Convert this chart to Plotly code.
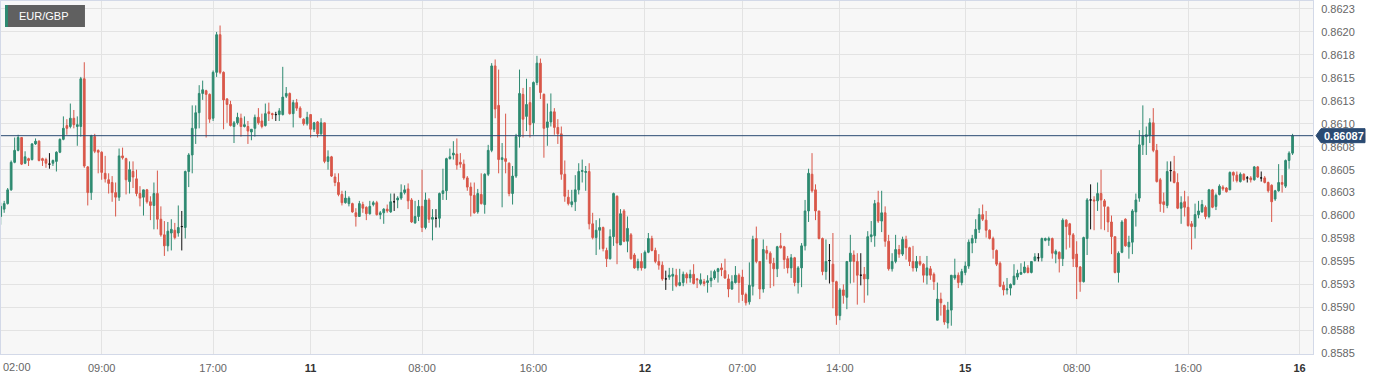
import plotly.graph_objects as go

symbol = "EUR/GBP"

opens = [
    0.85999, 0.86007, 0.86013, 0.86028, 0.86058, 0.86071, 0.86085, 0.86057, 0.86062, 0.86061,
    0.86078, 0.86081, 0.86062, 0.86061, 0.86056, 0.86057, 0.86059, 0.86069, 0.86083, 0.86098,
    0.86097, 0.86106, 0.86097, 0.86097, 0.86149, 0.86053, 0.86025, 0.86086, 0.86071, 0.86069,
    0.86046, 0.86039, 0.86036, 0.86025, 0.86020, 0.86065, 0.86062, 0.86037, 0.86048, 0.86040,
    0.86024, 0.86020, 0.86028, 0.86015, 0.86011, 0.86024, 0.85996, 0.85979, 0.85967, 0.85981,
    0.85984, 0.85981, 0.85988, 0.85987, 0.86048, 0.86066, 0.86095, 0.86112, 0.86133, 0.86136,
    0.86132, 0.86106, 0.86156, 0.86197, 0.86156, 0.86127, 0.86121, 0.86097, 0.86101, 0.86106,
    0.86097, 0.86097, 0.86091, 0.86095, 0.86107, 0.86103, 0.86098, 0.86113, 0.86111, 0.86110,
    0.86110, 0.86110, 0.86130, 0.86133, 0.86111, 0.86123, 0.86117, 0.86105, 0.86100, 0.86110,
    0.86094, 0.86102, 0.86089, 0.86101, 0.86059, 0.86064, 0.86042, 0.86036, 0.86023, 0.86014,
    0.86013, 0.86013, 0.86003, 0.85999, 0.86012, 0.86009, 0.86002, 0.86012, 0.86014, 0.86001,
    0.86003, 0.86007, 0.86004, 0.86015, 0.86017, 0.86019, 0.86025, 0.86029, 0.86017, 0.85992,
    0.85999, 0.86010, 0.85987, 0.86017, 0.85996, 0.85997, 0.85997, 0.86024, 0.86027, 0.86062,
    0.86066, 0.86067, 0.86058, 0.86056, 0.86041, 0.86031, 0.86022, 0.86004, 0.86023, 0.86012,
    0.86045, 0.86071, 0.86163, 0.86120, 0.86061, 0.86062, 0.86057, 0.86024, 0.86043, 0.86086,
    0.86132, 0.86108, 0.86123, 0.86101, 0.86145, 0.86166, 0.86132, 0.86096, 0.86102, 0.86113,
    0.86096, 0.86089, 0.86045, 0.86020, 0.86012, 0.86015, 0.86028, 0.86048, 0.86047, 0.86048,
    0.85991, 0.85976, 0.85984, 0.85987, 0.85962, 0.85953, 0.85977, 0.86021, 0.85968, 0.86005,
    0.85972, 0.85979, 0.85957, 0.85943, 0.85950, 0.85943, 0.85960, 0.85975, 0.85962, 0.85950,
    0.85946, 0.85931, 0.85933, 0.85934, 0.85935, 0.85924, 0.85927, 0.85936, 0.85932, 0.85936,
    0.85931, 0.85926, 0.85928, 0.85927, 0.85929, 0.85932, 0.85939, 0.85943, 0.85940, 0.85931,
    0.85920, 0.85927, 0.85935, 0.85933, 0.85914, 0.85906, 0.85923, 0.85975, 0.85950, 0.85920,
    0.85962, 0.85959, 0.85948, 0.85942, 0.85967, 0.85966, 0.85953, 0.85943, 0.85954, 0.85927,
    0.85943, 0.85967, 0.86005, 0.86045, 0.86028, 0.86005, 0.85975, 0.85939, 0.85951, 0.85947,
    0.85928, 0.85891, 0.85919, 0.85911, 0.85950, 0.85957, 0.85950, 0.85935, 0.85936, 0.85931,
    0.85977, 0.85978, 0.86014, 0.85994, 0.86003, 0.85972, 0.85942, 0.85950, 0.85963, 0.85958,
    0.85974, 0.85965, 0.85950, 0.85943, 0.85950, 0.85947, 0.85935, 0.85942, 0.85936, 0.85886,
    0.85909, 0.85902, 0.85883, 0.85897, 0.85932, 0.85935, 0.85927, 0.85938, 0.85945, 0.85970,
    0.85975, 0.85985, 0.86001, 0.85995, 0.85984, 0.85975, 0.85962, 0.85948, 0.85924, 0.85919,
    0.85921, 0.85925, 0.85933, 0.85936, 0.85938, 0.85943, 0.85938, 0.85951, 0.85954, 0.85954,
    0.85973, 0.85973, 0.85975, 0.85958, 0.85960, 0.85953, 0.85995, 0.85991, 0.85979, 0.85958,
    0.85944, 0.85928, 0.85975, 0.86017, 0.86017, 0.86016, 0.86024, 0.86016, 0.86009, 0.85993,
    0.85977, 0.85938, 0.85960, 0.85996, 0.85966, 0.85971, 0.86004, 0.86019, 0.86077, 0.86086,
    0.86087, 0.86101, 0.86071, 0.86039, 0.86015, 0.86011, 0.86049, 0.86048, 0.86036, 0.86008,
    0.86015, 0.86009, 0.85991, 0.85988, 0.86001, 0.86004, 0.86009, 0.85999, 0.86028, 0.86010,
    0.86023, 0.86031, 0.86030, 0.86028, 0.86047, 0.86044, 0.86037, 0.86045, 0.86041, 0.86041,
    0.86039, 0.86053, 0.86041, 0.86041, 0.86036, 0.86033, 0.86018, 0.86027, 0.86036, 0.86032,
    0.86060, 0.86068,
]

highs = [
    0.86014, 0.86016, 0.86030, 0.86060, 0.86085, 0.86088, 0.86085, 0.86070, 0.86063, 0.86079,
    0.86084, 0.86082, 0.86063, 0.86063, 0.86068, 0.86061, 0.86070, 0.86084, 0.86108, 0.86105,
    0.86122, 0.86115, 0.86108, 0.86151, 0.86167, 0.86054, 0.86088, 0.86089, 0.86072, 0.86070,
    0.86065, 0.86046, 0.86043, 0.86036, 0.86073, 0.86074, 0.86063, 0.86059, 0.86059, 0.86050,
    0.86032, 0.86028, 0.86029, 0.86021, 0.86036, 0.86049, 0.86010, 0.85994, 0.85993, 0.85996,
    0.85992, 0.86011, 0.86005, 0.86049, 0.86068, 0.86120, 0.86120, 0.86142, 0.86147, 0.86137,
    0.86133, 0.86158, 0.86200, 0.86207, 0.86157, 0.86128, 0.86125, 0.86103, 0.86112, 0.86111,
    0.86108, 0.86103, 0.86094, 0.86110, 0.86117, 0.86111, 0.86122, 0.86123, 0.86112, 0.86113,
    0.86117, 0.86162, 0.86140, 0.86134, 0.86126, 0.86127, 0.86119, 0.86106, 0.86113, 0.86110,
    0.86102, 0.86103, 0.86106, 0.86101, 0.86071, 0.86065, 0.86046, 0.86046, 0.86027, 0.86027,
    0.86021, 0.86014, 0.86008, 0.86016, 0.86015, 0.86010, 0.86016, 0.86016, 0.86016, 0.86005,
    0.86008, 0.86012, 0.86024, 0.86024, 0.86021, 0.86034, 0.86033, 0.86035, 0.86019, 0.86016,
    0.86017, 0.86050, 0.86025, 0.86019, 0.86007, 0.86007, 0.86025, 0.86051, 0.86063, 0.86073,
    0.86081, 0.86084, 0.86068, 0.86061, 0.86043, 0.86036, 0.86036, 0.86029, 0.86046, 0.86046,
    0.86077, 0.86166, 0.86170, 0.86159, 0.86079, 0.86111, 0.86058, 0.86054, 0.86089, 0.86159,
    0.86139, 0.86149, 0.86140, 0.86146, 0.86174, 0.86171, 0.86133, 0.86122, 0.86133, 0.86117,
    0.86105, 0.86097, 0.86060, 0.86028, 0.86028, 0.86044, 0.86057, 0.86061, 0.86054, 0.86057,
    0.86003, 0.85995, 0.85997, 0.85988, 0.85965, 0.85985, 0.86025, 0.86022, 0.86007, 0.86007,
    0.85999, 0.85981, 0.85959, 0.85953, 0.85959, 0.85962, 0.85981, 0.85978, 0.85965, 0.85958,
    0.85950, 0.85940, 0.85943, 0.85943, 0.85942, 0.85942, 0.85939, 0.85938, 0.85941, 0.85947,
    0.85932, 0.85937, 0.85931, 0.85935, 0.85940, 0.85941, 0.85943, 0.85948, 0.85953, 0.85936,
    0.85935, 0.85945, 0.85937, 0.85941, 0.85916, 0.85949, 0.85978, 0.85988, 0.85950, 0.85974,
    0.85967, 0.85961, 0.85954, 0.85967, 0.85981, 0.85967, 0.85956, 0.85958, 0.85955, 0.85945,
    0.85970, 0.86017, 0.86051, 0.86068, 0.86034, 0.86005, 0.85976, 0.85974, 0.85969, 0.85981,
    0.85929, 0.85921, 0.85925, 0.85950, 0.85979, 0.85962, 0.85959, 0.85959, 0.85944, 0.85983,
    0.85994, 0.86017, 0.86027, 0.86027, 0.86010, 0.85979, 0.85959, 0.85979, 0.85968, 0.85977,
    0.85978, 0.85966, 0.85967, 0.85956, 0.85956, 0.85948, 0.85956, 0.85945, 0.85938, 0.85927,
    0.85916, 0.85903, 0.85906, 0.85935, 0.85953, 0.85938, 0.85942, 0.85950, 0.85974, 0.85979,
    0.85996, 0.86008, 0.86012, 0.86005, 0.85985, 0.85977, 0.85963, 0.85950, 0.85928, 0.85932,
    0.85926, 0.85947, 0.85941, 0.85948, 0.85950, 0.85946, 0.85950, 0.85959, 0.85959, 0.85976,
    0.85976, 0.85977, 0.85976, 0.85963, 0.85961, 0.85997, 0.85996, 0.85992, 0.85981, 0.85972,
    0.85945, 0.85977, 0.86019, 0.86034, 0.86021, 0.86036, 0.86050, 0.86018, 0.86010, 0.86000,
    0.85977, 0.85961, 0.85995, 0.85997, 0.85978, 0.86007, 0.86024, 0.86093, 0.86120, 0.86097,
    0.86106, 0.86117, 0.86078, 0.86041, 0.86025, 0.86059, 0.86059, 0.86065, 0.86046, 0.86021,
    0.86027, 0.86021, 0.85994, 0.86013, 0.86016, 0.86017, 0.86011, 0.86029, 0.86029, 0.86024,
    0.86034, 0.86033, 0.86031, 0.86048, 0.86048, 0.86048, 0.86047, 0.86046, 0.86043, 0.86043,
    0.86054, 0.86054, 0.86048, 0.86043, 0.86037, 0.86034, 0.86028, 0.86056, 0.86044, 0.86061,
    0.86070, 0.86089,
]

lows = [
    0.85990, 0.86003, 0.86012, 0.86027, 0.86057, 0.86070, 0.86055, 0.86056, 0.86054, 0.86060,
    0.86077, 0.86059, 0.86054, 0.86052, 0.86051, 0.86054, 0.86048, 0.86068, 0.86082, 0.86088,
    0.86095, 0.86095, 0.86076, 0.86086, 0.86052, 0.86011, 0.86017, 0.86068, 0.86046, 0.86039,
    0.86036, 0.86024, 0.86015, 0.85999, 0.86016, 0.86061, 0.86023, 0.86024, 0.86030, 0.86021,
    0.86010, 0.86000, 0.86013, 0.85995, 0.85985, 0.85985, 0.85977, 0.85956, 0.85961, 0.85962,
    0.85974, 0.85977, 0.85962, 0.85975, 0.86031, 0.86046, 0.86078, 0.86095, 0.86126, 0.86085,
    0.86101, 0.86103, 0.86151, 0.86154, 0.86094, 0.86101, 0.86097, 0.86079, 0.86099, 0.86086,
    0.86096, 0.86078, 0.86082, 0.86086, 0.86099, 0.86095, 0.86097, 0.86103, 0.86105, 0.86103,
    0.86103, 0.86109, 0.86128, 0.86110, 0.86096, 0.86114, 0.86106, 0.86098, 0.86098, 0.86085,
    0.86091, 0.86085, 0.86088, 0.86057, 0.86050, 0.86042, 0.86032, 0.86021, 0.86011, 0.86013,
    0.86010, 0.86003, 0.85988, 0.85999, 0.86003, 0.85995, 0.86001, 0.86010, 0.86000, 0.85996,
    0.85991, 0.86003, 0.86003, 0.86005, 0.86008, 0.86017, 0.86023, 0.86007, 0.85992, 0.85991,
    0.85994, 0.85982, 0.85985, 0.85992, 0.85973, 0.85987, 0.85987, 0.86017, 0.86017, 0.86061,
    0.86061, 0.86050, 0.86052, 0.86039, 0.86027, 0.85999, 0.86002, 0.86002, 0.86012, 0.86002,
    0.86043, 0.86069, 0.86106, 0.86046, 0.86009, 0.86046, 0.86021, 0.86012, 0.86041, 0.86074,
    0.86085, 0.86092, 0.86085, 0.86088, 0.86142, 0.86127, 0.86063, 0.86076, 0.86097, 0.86088,
    0.86078, 0.86039, 0.86015, 0.86011, 0.86009, 0.86005, 0.86023, 0.86036, 0.86027, 0.85985,
    0.85974, 0.85957, 0.85963, 0.85961, 0.85944, 0.85952, 0.85967, 0.85947, 0.85968, 0.85971,
    0.85960, 0.85952, 0.85942, 0.85940, 0.85940, 0.85942, 0.85959, 0.85961, 0.85948, 0.85941,
    0.85929, 0.85919, 0.85930, 0.85918, 0.85922, 0.85923, 0.85923, 0.85926, 0.85927, 0.85925,
    0.85921, 0.85924, 0.85923, 0.85916, 0.85922, 0.85930, 0.85927, 0.85934, 0.85931, 0.85911,
    0.85919, 0.85926, 0.85905, 0.85907, 0.85902, 0.85903, 0.85913, 0.85948, 0.85909, 0.85916,
    0.85952, 0.85921, 0.85923, 0.85933, 0.85964, 0.85942, 0.85937, 0.85932, 0.85923, 0.85915,
    0.85922, 0.85962, 0.85993, 0.86025, 0.85995, 0.85974, 0.85935, 0.85930, 0.85926, 0.85899,
    0.85881, 0.85886, 0.85904, 0.85898, 0.85926, 0.85927, 0.85903, 0.85924, 0.85905, 0.85913,
    0.85971, 0.85966, 0.85992, 0.85982, 0.85966, 0.85940, 0.85939, 0.85948, 0.85954, 0.85956,
    0.85952, 0.85945, 0.85939, 0.85939, 0.85945, 0.85927, 0.85925, 0.85930, 0.85919, 0.85886,
    0.85891, 0.85881, 0.85877, 0.85880, 0.85930, 0.85921, 0.85924, 0.85935, 0.85942, 0.85959,
    0.85970, 0.85981, 0.85994, 0.85976, 0.85974, 0.85953, 0.85945, 0.85922, 0.85913, 0.85914,
    0.85913, 0.85924, 0.85930, 0.85936, 0.85937, 0.85937, 0.85937, 0.85950, 0.85950, 0.85950,
    0.85972, 0.85967, 0.85953, 0.85948, 0.85938, 0.85945, 0.85963, 0.85965, 0.85944, 0.85909,
    0.85917, 0.85927, 0.85957, 0.85985, 0.85984, 0.86005, 0.85985, 0.85984, 0.85982, 0.85958,
    0.85937, 0.85927, 0.85959, 0.85966, 0.85953, 0.85958, 0.85988, 0.86015, 0.86066, 0.86066,
    0.86079, 0.86069, 0.86036, 0.86004, 0.86003, 0.86008, 0.86037, 0.86035, 0.86007, 0.85991,
    0.85999, 0.85988, 0.85963, 0.85975, 0.85997, 0.86003, 0.85996, 0.85997, 0.86008, 0.86006,
    0.86022, 0.86027, 0.86025, 0.86028, 0.86037, 0.86036, 0.86036, 0.86038, 0.86036, 0.86036,
    0.86038, 0.86041, 0.86037, 0.86035, 0.86025, 0.85993, 0.86016, 0.86026, 0.86025, 0.86030,
    0.86051, 0.86066,
]

closes = [
    0.86010, 0.86013, 0.86028, 0.86058, 0.86071, 0.86085, 0.86056, 0.86064, 0.86060, 0.86078,
    0.86081, 0.86060, 0.86060, 0.86057, 0.86056, 0.86060, 0.86069, 0.86083, 0.86095, 0.86095,
    0.86106, 0.86099, 0.86099, 0.86149, 0.86054, 0.86025, 0.86087, 0.86070, 0.86069, 0.86047,
    0.86040, 0.86035, 0.86025, 0.86020, 0.86065, 0.86063, 0.86039, 0.86050, 0.86042, 0.86024,
    0.86019, 0.86028, 0.86015, 0.86011, 0.86024, 0.85996, 0.85979, 0.85967, 0.85983, 0.85985,
    0.85976, 0.85987, 0.85988, 0.86048, 0.86066, 0.86095, 0.86112, 0.86133, 0.86137, 0.86132,
    0.86105, 0.86156, 0.86197, 0.86156, 0.86126, 0.86121, 0.86098, 0.86101, 0.86107, 0.86097,
    0.86099, 0.86092, 0.86094, 0.86107, 0.86101, 0.86097, 0.86111, 0.86111, 0.86110, 0.86110,
    0.86114, 0.86129, 0.86133, 0.86111, 0.86123, 0.86117, 0.86107, 0.86100, 0.86107, 0.86094,
    0.86101, 0.86089, 0.86101, 0.86059, 0.86064, 0.86043, 0.86036, 0.86023, 0.86014, 0.86019,
    0.86019, 0.86004, 0.85999, 0.86013, 0.86008, 0.86002, 0.86010, 0.86014, 0.86001, 0.86003,
    0.86007, 0.86005, 0.86015, 0.86015, 0.86019, 0.86025, 0.86028, 0.86016, 0.85993, 0.85999,
    0.86010, 0.85987, 0.86017, 0.85996, 0.85998, 0.85997, 0.86024, 0.86027, 0.86062, 0.86064,
    0.86068, 0.86055, 0.86056, 0.86041, 0.86031, 0.86022, 0.86003, 0.86024, 0.86013, 0.86045,
    0.86071, 0.86163, 0.86116, 0.86061, 0.86063, 0.86059, 0.86024, 0.86043, 0.86086, 0.86133,
    0.86105, 0.86121, 0.86099, 0.86145, 0.86166, 0.86134, 0.86095, 0.86102, 0.86113, 0.86096,
    0.86089, 0.86045, 0.86021, 0.86013, 0.86015, 0.86028, 0.86048, 0.86049, 0.86048, 0.85991,
    0.85976, 0.85984, 0.85987, 0.85964, 0.85953, 0.85977, 0.86024, 0.85970, 0.86002, 0.85972,
    0.85986, 0.85953, 0.85943, 0.85950, 0.85943, 0.85960, 0.85975, 0.85962, 0.85950, 0.85946,
    0.85931, 0.85931, 0.85935, 0.85936, 0.85924, 0.85927, 0.85936, 0.85932, 0.85936, 0.85926,
    0.85930, 0.85930, 0.85926, 0.85929, 0.85932, 0.85939, 0.85942, 0.85941, 0.85932, 0.85920,
    0.85928, 0.85935, 0.85927, 0.85914, 0.85905, 0.85924, 0.85974, 0.85950, 0.85920, 0.85963,
    0.85959, 0.85948, 0.85942, 0.85966, 0.85965, 0.85952, 0.85943, 0.85954, 0.85927, 0.85943,
    0.85967, 0.86005, 0.86046, 0.86027, 0.86005, 0.85975, 0.85939, 0.85950, 0.85951, 0.85928,
    0.85891, 0.85919, 0.85913, 0.85950, 0.85959, 0.85950, 0.85935, 0.85935, 0.85931, 0.85977,
    0.85979, 0.86013, 0.85994, 0.86003, 0.85972, 0.85942, 0.85950, 0.85963, 0.85958, 0.85974,
    0.85965, 0.85950, 0.85943, 0.85950, 0.85947, 0.85935, 0.85943, 0.85935, 0.85928, 0.85909,
    0.85905, 0.85884, 0.85897, 0.85935, 0.85935, 0.85927, 0.85939, 0.85945, 0.85971, 0.85975,
    0.85985, 0.86001, 0.85996, 0.85984, 0.85975, 0.85963, 0.85947, 0.85923, 0.85919, 0.85920,
    0.85925, 0.85934, 0.85937, 0.85938, 0.85944, 0.85938, 0.85950, 0.85955, 0.85954, 0.85975,
    0.85975, 0.85975, 0.85959, 0.85961, 0.85953, 0.85995, 0.85988, 0.85979, 0.85953, 0.85944,
    0.85928, 0.85976, 0.86017, 0.86017, 0.86016, 0.86024, 0.86017, 0.86010, 0.85993, 0.85977,
    0.85938, 0.85959, 0.85993, 0.85967, 0.85971, 0.86005, 0.86017, 0.86077, 0.86087, 0.86088,
    0.86101, 0.86071, 0.86037, 0.86013, 0.86012, 0.86048, 0.86049, 0.86036, 0.86008, 0.86014,
    0.86009, 0.85989, 0.85988, 0.86001, 0.86005, 0.86012, 0.85999, 0.86028, 0.86009, 0.86022,
    0.86032, 0.86029, 0.86026, 0.86047, 0.86044, 0.86038, 0.86045, 0.86039, 0.86041, 0.86039,
    0.86053, 0.86042, 0.86041, 0.86036, 0.86027, 0.86015, 0.86027, 0.86036, 0.86034, 0.86060,
    0.86068, 0.86087,
]

# x-axis: candle slot index of each labelled time (15-minute candles, weekend removed)
x_tick_pos = [1, 29, 61, 89, 121, 153, 185, 213, 241, 277, 309, 341, 373]
x_tick_text = ["02:00", "09:00", "17:00", "11", "08:00", "16:00", "12",
               "07:00", "14:00", "15", "08:00", "16:00", "16"]

y_tick_vals = [0.8585, 0.85875, 0.8590, 0.85925, 0.8595, 0.85975, 0.8600, 0.86025,
               0.8605, 0.86075, 0.8610, 0.86125, 0.8615, 0.86175, 0.8620, 0.86225]
y_tick_text = ["0.8585", "0.8588", "0.8590", "0.8593", "0.8595", "0.8598", "0.8600", "0.8603",
               "0.8605", "0.8608", "0.8610", "0.8613", "0.8615", "0.8618", "0.8620", "0.8623"]

GREEN = "#2e8a71"
RED = "#d9584a"
NAVY = "#2a4a72"
GRID = "#e3e3e3"
BORDER = "#d3d9e8"
BG = "#f7f7f7"
FONT = "Arial, 'Liberation Sans', sans-serif"

idx = list(range(len(closes)))
doji = [o == c for o, c in zip(opens, closes)]
n_idx = [i for i in idx if not doji[i]]
d_idx = [i for i in idx if doji[i]]


def sel(arr, ids):
    return [arr[i] for i in ids]


fig = go.Figure()
fig.add_trace(go.Candlestick(
    x=n_idx, open=sel(opens, n_idx), high=sel(highs, n_idx),
    low=sel(lows, n_idx), close=sel(closes, n_idx),
    increasing=dict(line=dict(color=GREEN, width=1), fillcolor=GREEN),
    decreasing=dict(line=dict(color=RED, width=1), fillcolor=RED),
    hoverinfo="skip", showlegend=False,
))
fig.add_trace(go.Candlestick(
    x=d_idx, open=sel(opens, d_idx), high=sel(highs, d_idx),
    low=sel(lows, d_idx), close=sel(closes, d_idx),
    increasing=dict(line=dict(color="#111111", width=1), fillcolor="#111111"),
    decreasing=dict(line=dict(color="#111111", width=1), fillcolor="#111111"),
    hoverinfo="skip", showlegend=False,
))

tick_text_fmt = []
for t in x_tick_text[1:]:
    if ":" in t:
        tick_text_fmt.append(t)
    else:
        tick_text_fmt.append("<span style='color:#333333'><b>%s</b></span>" % t)

last = closes[-1]

fig.update_layout(
    width=1384, height=380,
    margin=dict(l=1, r=71, t=1, b=26, pad=0),
    paper_bgcolor="white", plot_bgcolor=BG,
    showlegend=False, hovermode=False,
    font=dict(family=FONT, size=11, color="#666666"),
    xaxis=dict(
        range=[0.086, 376.87], rangeslider=dict(visible=False),
        tickmode="array", tickvals=x_tick_pos[1:], ticktext=tick_text_fmt,
        showgrid=True, gridcolor=GRID, gridwidth=1, zeroline=False,
        showline=True, linecolor=BORDER, linewidth=1, mirror=True,
        ticks="outside", ticklen=4, tickcolor="rgba(0,0,0,0)",
        tickfont=dict(family=FONT, size=11, color="#666666"), fixedrange=True,
    ),
    yaxis=dict(
        side="right", range=[0.858492, 0.862337],
        tickmode="array", tickvals=y_tick_vals, ticktext=y_tick_text,
        showgrid=True, gridcolor=GRID, gridwidth=1, zeroline=False,
        showline=True, linecolor=BORDER, linewidth=1, mirror=True,
        ticks="outside", ticklen=5, tickcolor="rgba(0,0,0,0)",
        tickfont=dict(family=FONT, size=11, color="#666666"), fixedrange=True,
    ),
    shapes=[
        # blank patch in lower-left (hidden watermark area)
        dict(type="rect", xref="paper", yref="paper", x0=0.0092, x1=0.1029, y0=0.040, y1=0.142,
             fillcolor=BG, line=dict(width=0), layer="between"),
        # current price line
        dict(type="line", xref="paper", yref="y", x0=0, x1=1, y0=last, y1=last,
             line=dict(color=NAVY, width=1), layer="above"),
        # price tag
        dict(type="path", xref="paper", yref="y", xsizemode="pixel", ysizemode="pixel",
             xanchor=1, yanchor=last,
             path="M 3 0 L 8 7 L 52 7 L 52 -7 L 8 -7 Z",
             fillcolor=NAVY, line=dict(color=NAVY, width=1), layer="above"),
        # symbol box
        dict(type="rect", xref="paper", yref="paper", x0=0.00305, x1=0.0640, y0=0.9263, y1=0.9887,
             fillcolor="#606060", line=dict(width=0), layer="above"),
        dict(type="rect", xref="paper", yref="paper", x0=0.00305, x1=0.0053, y0=0.9263, y1=0.9887,
             fillcolor=GREEN, line=dict(width=0), layer="above"),
    ],
    annotations=[
        dict(text="%.5f" % last, xref="paper", yref="y", x=1, y=last,
             xanchor="left", yanchor="middle", xshift=9, showarrow=False,
             font=dict(family=FONT, size=11, color="white", weight="bold")),
        dict(text=symbol, xref="paper", yref="paper", x=0.0122, y=0.9575,
             xanchor="left", yanchor="middle", showarrow=False,
             font=dict(family=FONT, size=11, color="white")),
        dict(text=x_tick_text[0], xref="paper", yref="paper", x=0, y=0,
             xanchor="left", yanchor="middle", yshift=-13, showarrow=False,
             font=dict(family=FONT, size=11, color="#666666")),
    ],
)

fig.write_html("out.html")
